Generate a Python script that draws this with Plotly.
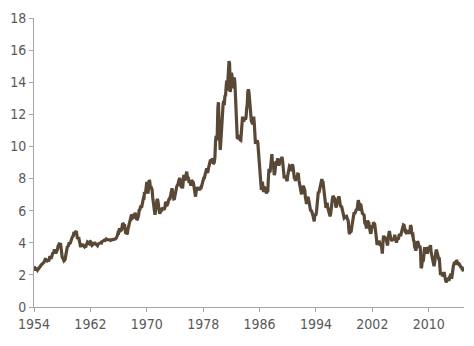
import plotly.graph_objects as go

years = list(range(1954, 2015))
yields_by_year = {
    1954: [2.48, 2.47, 2.37, 2.29, 2.37, 2.38, 2.30, 2.36, 2.38, 2.43, 2.48, 2.51],
    1955: [2.61, 2.65, 2.68, 2.75, 2.76, 2.78, 2.90, 2.97, 2.97, 2.88, 2.89, 2.96],
    1956: [2.90, 2.84, 2.96, 3.18, 3.07, 3.00, 3.11, 3.33, 3.38, 3.34, 3.49, 3.59],
    1957: [3.46, 3.34, 3.41, 3.48, 3.60, 3.80, 3.93, 3.93, 3.92, 3.97, 3.72, 3.21],
    1958: [3.09, 3.05, 2.98, 2.88, 2.92, 2.97, 3.20, 3.54, 3.76, 3.80, 3.74, 3.86],
    1959: [4.02, 3.96, 3.99, 4.12, 4.31, 4.34, 4.40, 4.43, 4.68, 4.53, 4.53, 4.69],
    1960: [4.72, 4.49, 4.25, 4.28, 4.35, 4.15, 3.90, 3.80, 3.80, 3.89, 3.93, 3.84],
    1961: [3.84, 3.78, 3.74, 3.78, 3.71, 3.88, 3.92, 4.04, 3.98, 3.92, 3.94, 4.06],
    1962: [4.08, 4.04, 3.93, 3.84, 3.87, 3.91, 4.01, 3.98, 3.98, 3.93, 3.92, 3.86],
    1963: [3.83, 3.92, 3.93, 3.97, 3.93, 3.99, 4.02, 4.00, 4.08, 4.11, 4.12, 4.13],
    1964: [4.17, 4.15, 4.22, 4.23, 4.20, 4.17, 4.19, 4.19, 4.20, 4.19, 4.15, 4.18],
    1965: [4.19, 4.21, 4.21, 4.20, 4.21, 4.21, 4.20, 4.25, 4.29, 4.35, 4.45, 4.62],
    1966: [4.61, 4.83, 4.87, 4.75, 4.78, 4.81, 5.02, 5.22, 5.18, 5.01, 5.16, 4.84],
    1967: [4.58, 4.63, 4.54, 4.59, 4.85, 5.02, 5.16, 5.28, 5.30, 5.48, 5.75, 5.70],
    1968: [5.53, 5.56, 5.74, 5.64, 5.87, 5.72, 5.50, 5.42, 5.46, 5.58, 5.70, 6.03],
    1969: [6.04, 6.19, 6.30, 6.17, 6.32, 6.57, 6.72, 6.69, 7.16, 7.10, 7.14, 7.65],
    1970: [7.79, 7.24, 7.07, 7.39, 7.91, 7.84, 7.46, 7.53, 7.39, 7.33, 6.84, 6.39],
    1971: [6.24, 6.00, 5.74, 5.93, 6.30, 6.60, 6.73, 6.58, 6.14, 5.93, 5.81, 5.93],
    1972: [5.95, 6.08, 6.07, 6.19, 6.13, 6.11, 6.11, 6.21, 6.55, 6.48, 6.28, 6.36],
    1973: [6.46, 6.64, 6.71, 6.67, 6.85, 6.90, 7.13, 7.40, 7.09, 6.79, 6.73, 6.74],
    1974: [6.99, 6.96, 7.21, 7.51, 7.58, 7.54, 7.81, 8.04, 8.04, 7.90, 7.68, 7.43],
    1975: [7.50, 7.39, 7.73, 8.23, 8.06, 7.86, 8.06, 8.40, 8.43, 8.14, 8.05, 8.00],
    1976: [7.74, 7.79, 7.73, 7.56, 7.90, 7.86, 7.83, 7.77, 7.59, 7.41, 7.29, 6.87],
    1977: [7.21, 7.39, 7.46, 7.37, 7.46, 7.28, 7.33, 7.40, 7.34, 7.52, 7.58, 7.69],
    1978: [7.96, 8.03, 8.04, 8.15, 8.35, 8.46, 8.64, 8.41, 8.42, 8.64, 8.81, 9.01],
    1979: [9.10, 9.10, 9.12, 9.18, 9.25, 8.91, 8.95, 9.03, 9.33, 10.30, 10.65, 10.39],
    1980: [10.80, 12.41, 12.75, 11.47, 10.18, 9.78, 10.25, 11.10, 11.51, 11.75, 12.68, 12.84],
    1981: [12.57, 13.19, 13.12, 13.68, 14.10, 13.47, 14.28, 14.94, 15.32, 15.15, 13.39, 13.72],
    1982: [14.59, 14.43, 13.86, 13.87, 13.62, 14.30, 13.95, 13.06, 12.34, 10.91, 10.55, 10.54],
    1983: [10.46, 10.72, 10.51, 10.40, 10.38, 10.85, 11.38, 11.85, 11.65, 11.54, 11.69, 11.83],
    1984: [11.67, 11.84, 12.32, 12.63, 13.41, 13.56, 13.36, 12.72, 12.52, 12.16, 11.57, 11.50],
    1985: [11.38, 11.51, 11.86, 11.43, 10.85, 10.16, 10.31, 10.33, 10.37, 10.24, 9.78, 9.26],
    1986: [9.19, 8.70, 7.78, 7.30, 7.71, 7.80, 7.30, 7.17, 7.45, 7.43, 7.25, 7.11],
    1987: [7.08, 7.25, 7.25, 8.02, 8.61, 8.40, 8.45, 8.76, 9.42, 9.52, 8.86, 8.99],
    1988: [8.67, 8.21, 8.37, 8.72, 9.09, 8.92, 9.06, 9.26, 8.98, 8.80, 8.96, 9.11],
    1989: [9.09, 9.17, 9.36, 9.18, 8.86, 8.28, 8.02, 8.11, 8.19, 8.01, 7.87, 7.84],
    1990: [8.21, 8.47, 8.59, 8.79, 8.76, 8.48, 8.47, 8.75, 8.89, 8.72, 8.39, 8.08],
    1991: [8.09, 7.85, 8.11, 8.04, 8.07, 8.28, 8.27, 7.90, 7.65, 7.53, 7.42, 7.09],
    1992: [7.03, 7.34, 7.54, 7.48, 7.39, 7.26, 6.84, 6.59, 6.42, 6.59, 6.87, 6.77],
    1993: [6.60, 6.26, 5.98, 5.97, 6.04, 5.96, 5.81, 5.68, 5.36, 5.33, 5.72, 5.77],
    1994: [5.75, 5.97, 6.48, 6.97, 7.18, 7.10, 7.30, 7.24, 7.46, 7.74, 7.96, 7.81],
    1995: [7.78, 7.47, 7.20, 7.06, 6.63, 6.17, 6.28, 6.49, 6.20, 6.04, 5.93, 5.71],
    1996: [5.65, 5.81, 6.27, 6.51, 6.74, 6.91, 6.87, 6.64, 6.83, 6.53, 6.20, 6.30],
    1997: [6.58, 6.42, 6.69, 6.89, 6.71, 6.49, 6.22, 6.30, 6.21, 6.03, 5.88, 5.81],
    1998: [5.54, 5.57, 5.65, 5.64, 5.65, 5.50, 5.46, 5.34, 4.81, 4.53, 4.83, 4.65],
    1999: [4.72, 5.00, 5.23, 5.18, 5.54, 5.90, 5.79, 5.94, 5.92, 6.11, 6.03, 6.28],
    2000: [6.66, 6.52, 6.26, 5.99, 6.44, 6.10, 6.05, 5.83, 5.80, 5.74, 5.72, 5.24],
    2001: [5.16, 5.10, 4.89, 5.14, 5.39, 5.28, 5.24, 4.97, 4.73, 4.57, 4.65, 5.09],
    2002: [5.04, 4.91, 5.28, 5.21, 5.16, 4.93, 4.65, 4.26, 3.87, 3.94, 4.05, 4.03],
    2003: [4.05, 3.90, 3.81, 3.96, 3.57, 3.33, 3.98, 4.45, 4.27, 4.29, 4.30, 4.27],
    2004: [4.15, 4.08, 3.83, 4.35, 4.72, 4.73, 4.50, 4.28, 4.13, 4.10, 4.19, 4.23],
    2005: [4.22, 4.17, 4.50, 4.34, 4.14, 4.00, 4.18, 4.26, 4.20, 4.46, 4.54, 4.47],
    2006: [4.42, 4.57, 4.72, 4.99, 5.11, 5.11, 5.09, 4.88, 4.72, 4.73, 4.60, 4.56],
    2007: [4.76, 4.72, 4.56, 4.69, 4.75, 5.10, 5.00, 4.67, 4.52, 4.53, 4.15, 4.10],
    2008: [3.74, 3.74, 3.51, 3.68, 3.88, 4.10, 4.01, 3.89, 3.69, 3.81, 3.53, 2.42],
    2009: [2.52, 2.87, 2.82, 2.93, 3.29, 3.72, 3.56, 3.59, 3.40, 3.39, 3.40, 3.59],
    2010: [3.73, 3.69, 3.73, 3.85, 3.42, 3.20, 3.01, 2.70, 2.65, 2.54, 2.76, 3.29],
    2011: [3.39, 3.58, 3.41, 3.46, 3.17, 3.00, 3.00, 2.30, 1.98, 2.15, 2.01, 1.98],
    2012: [1.97, 1.97, 2.17, 2.05, 1.80, 1.62, 1.53, 1.68, 1.72, 1.75, 1.65, 1.72],
    2013: [1.91, 1.98, 1.96, 1.76, 1.93, 2.30, 2.58, 2.74, 2.81, 2.62, 2.72, 2.90],
    2014: [2.86, 2.71, 2.72, 2.71, 2.56, 2.60, 2.54, 2.42, 2.53, 2.30, 2.33, 2.21],
}
x_tick_vals = [1954, 1962, 1970, 1978, 1986, 1994, 2002, 2010]
y_tick_vals = [0, 2, 4, 6, 8, 10, 12, 14, 16, 18]

x, y = [], []
for yr in years:
    for m, v in enumerate(yields_by_year[yr]):
        x.append(yr + m / 12)
        y.append(v)

font_family = "Liberation Sans Narrow, Arial Narrow, DejaVu Sans Condensed, sans-serif"
axis_color = "#a6a6a6"

fig = go.Figure(go.Scatter(
    x=x, y=y, mode="lines",
    line=dict(color="#5a4836", width=3.2),
    hoverinfo="skip",
))
fig.update_layout(
    width=474, height=346,
    margin=dict(l=33, r=10, t=16, b=39),
    paper_bgcolor="white", plot_bgcolor="white",
    showlegend=False,
    font=dict(family=font_family, size=14, color="#595959"),
)
fig.update_xaxes(
    range=[1954, 2015], tickvals=x_tick_vals, ticktext=[str(v) for v in x_tick_vals],
    showgrid=False, zeroline=False, showline=True, linecolor=axis_color, linewidth=1,
    ticks="outside", ticklen=4, tickcolor=axis_color, tickwidth=1,
)
fig.update_yaxes(
    range=[0, 18], tickvals=y_tick_vals,
    showgrid=False, zeroline=False, showline=True, linecolor=axis_color, linewidth=1,
    ticks="outside", ticklen=4, tickcolor=axis_color, tickwidth=1,
)
fig.write_html("out.html")
